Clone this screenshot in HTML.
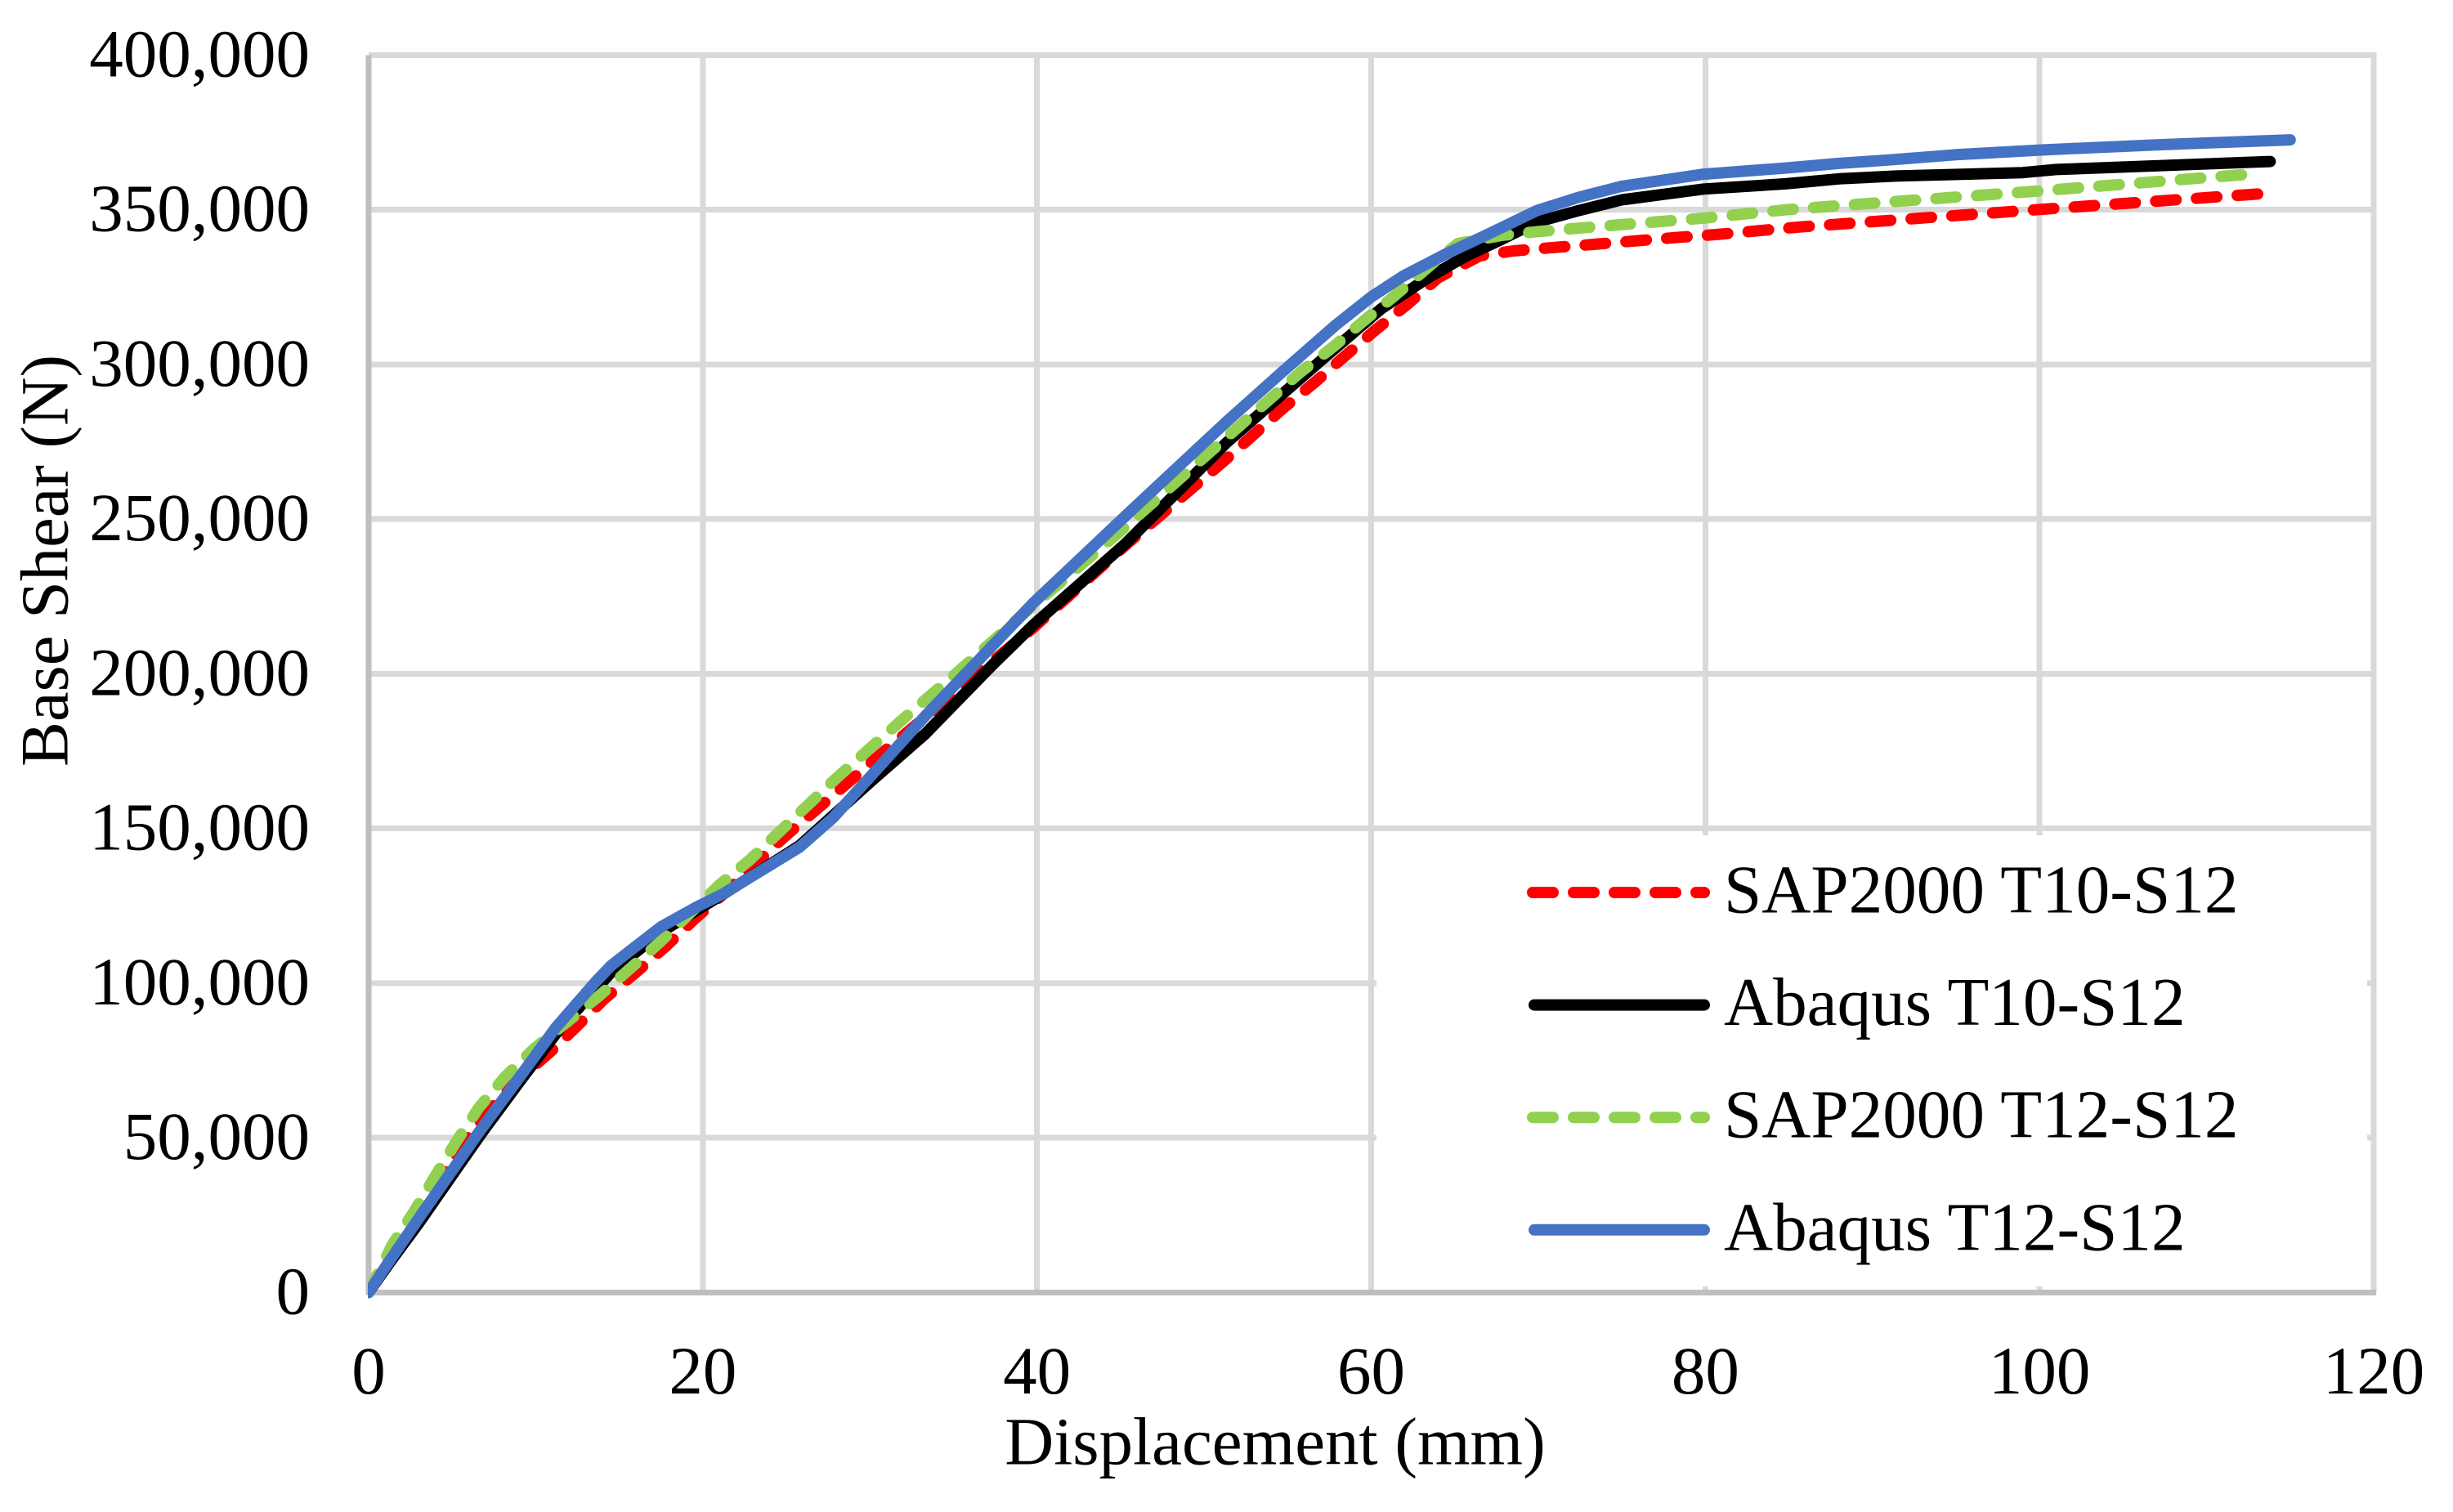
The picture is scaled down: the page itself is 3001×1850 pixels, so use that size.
<!DOCTYPE html>
<html lang="en">
<head>
<meta charset="utf-8">
<title>Base Shear vs Displacement</title>
<style>
html,body{margin:0;padding:0;background:#fff;width:3001px;height:1850px;overflow:hidden}
svg{display:block}
text{font-family:"Liberation Serif",serif;font-size:83px;fill:#000}
</style>
</head>
<body>
<svg id="chart" xmlns="http://www.w3.org/2000/svg" width="3001" height="1850" viewBox="0 0 3001 1850">
<defs><clipPath id="plot-clip"><rect x="450" y="0" width="2551" height="1850"/></clipPath></defs>
<rect width="3001" height="1850" fill="#fff"/>
<g id="grid"></g>
<rect x="1684" y="1022" width="1212" height="552" fill="#fff"/>
<g id="grid-front"></g>
<g id="axes"></g>
<g id="series" clip-path="url(#plot-clip)"></g>
<g id="ticks"></g>
<text x="1560" y="1791.5" text-anchor="middle">Displacement (mm)</text>
<text x="0" y="0" text-anchor="middle" font-size="82.5" style="font-size:82.5px" transform="translate(82.7 686) rotate(-90)">Base Shear (N)</text>
<g id="legend"></g>
</svg>
<script>
var xTicks = [0, 20, 40, 60, 80, 100, 120];
var yTicks = [0, 50000, 100000, 150000, 200000, 250000, 300000, 350000, 400000];

var sapT10Disp = [0, 1.4, 3, 4.8, 6.1, 7.3, 8.8, 10.9, 12.3, 14.1, 16, 17.8, 19.5, 21.2, 24.9, 28.7, 30.6, 35, 39.8, 45.4, 51, 52.9, 54.7, 56.6, 58.4, 60.3, 62.2, 64, 66.5, 68.5, 70.7, 73.3, 78.2, 80.7, 85.6, 100, 113.3];
var sapT10Shear = [0, 12500, 25000, 41000, 51400, 59400, 68000, 77900, 85200, 94900, 103500, 112000, 120700, 128700, 147400, 164900, 173800, 193500, 215000, 242100, 267900, 277000, 285700, 294100, 302600, 311300, 319600, 328000, 335100, 336700, 337700, 338800, 341000, 342000, 344400, 350100, 355200];

var abaT10Disp = [0, 1.3, 3, 5.5, 6.8, 9.1, 11.4, 14.6, 17.5, 21.2, 25.8, 30.1, 33.3, 37.3, 39.8, 45.3, 51.3, 53.3, 56.9, 60.6, 63.4, 65.7, 67.6, 69.9, 72.4, 75, 79.9, 84.8, 88, 91.4, 99, 101, 113.8];
var abaT10Shear = [0, 10000, 22400, 41800, 51800, 68600, 85000, 104000, 116500, 128700, 144500, 165400, 180500, 202700, 215900, 242100, 274500, 283900, 300800, 318000, 328000, 335100, 339900, 346000, 349700, 353200, 356700, 358400, 360000, 360900, 362000, 363000, 365600];

var sapT12Disp = [0, 1.4, 2.7, 4, 5.25, 6.6, 8.2, 9.9, 12, 13.8, 15.6, 17.4, 21, 22.8, 24.6, 28.1, 31.8, 35.6, 39.3, 44.8, 52.1, 55.7, 57.8, 59.6, 61.4, 63.7, 65.2, 67.8, 70.1, 75, 79.9, 84.8, 87.2, 100, 112.3];
var sapT12Shear = [0, 15300, 26000, 37800, 48800, 59800, 69900, 78800, 88000, 95900, 104500, 113100, 131800, 139800, 149000, 166800, 184500, 202200, 219900, 245200, 280000, 297200, 306000, 314300, 322200, 332800, 339100, 341700, 343000, 345200, 347300, 350000, 351000, 356100, 361400];

var abaT12Disp = [0, 1.1, 2.8, 5.5, 6.6, 8.9, 11.2, 13.6, 14.5, 15.8, 17.5, 19.7, 21.2, 25.8, 27.8, 33.3, 39.8, 45.55, 51.3, 54.6, 57.85, 60, 61.9, 64.4, 66.8, 69.9, 72.4, 75, 79.9, 84.8, 88, 91, 95, 100, 107, 115];
var abaT12Shear = [0, 9000, 22400, 43300, 51800, 68600, 85600, 100500, 105600, 111100, 118200, 124800, 128800, 144000, 153500, 186300, 223000, 252300, 281300, 297200, 312600, 321800, 328500, 335500, 341600, 349700, 354000, 357600, 361500, 363500, 365000, 366100, 367800, 369300, 371000, 372600];

var NS = 'http://www.w3.org/2000/svg';
var xMax = 120, yMax = 400000;
var plotLeft = 451, plotRight = 2904, plotTop = 67.4, plotBottom = 1581.4;
function xScale(v) { return plotLeft + (plotRight - plotLeft) * v / xMax; }
function yScale(v) { return plotBottom - (plotBottom - plotTop) * v / yMax; }
function formatThousands(v) { return String(v).replace(/\B(?=(\d{3})+$)/g, ','); }
function makeLine(parent, x1, y1, x2, y2, color, width) {
  var l = document.createElementNS(NS, 'line');
  l.setAttribute('x1', x1);
  l.setAttribute('y1', y1);
  l.setAttribute('x2', x2);
  l.setAttribute('y2', y2);
  l.setAttribute('stroke', color);
  l.setAttribute('stroke-width', width);
  l.setAttribute('shape-rendering', 'crispEdges');
  parent.appendChild(l);
  return l;
}

var gridG = document.getElementById('grid');
var gridFront = document.getElementById('grid-front');
var axesG = document.getElementById('axes');
var ticksG = document.getElementById('ticks');
var seriesG = document.getElementById('series');
var legendG = document.getElementById('legend');

yTicks.forEach(function (t) {
  if (t === 0) return;
  var g = makeLine(gridG, plotLeft, yScale(t), plotRight + 3, yScale(t), '#d9d9d9', 7);
  
  
});
xTicks.forEach(function (t) {
  if (t === 0) return;
  var g = makeLine(t === 60 ? gridFront : gridG, xScale(t), plotTop - 3, xScale(t), plotBottom, '#d9d9d9', 7);
  
  
});

var yAxisLine = makeLine(axesG, plotLeft, plotTop, plotLeft, plotBottom + 3, '#bfbfbf', 7);


var xAxisLine = makeLine(axesG, plotLeft, plotBottom, plotRight + 3, plotBottom, '#bfbfbf', 7);



yTicks.forEach(function (t) {
  var el = document.createElementNS(NS, 'text');
  el.setAttribute('x', 379);
  el.setAttribute('y', yScale(t) + 26);
  el.setAttribute('text-anchor', 'end');
  el.textContent = formatThousands(t);
  
  
  ticksG.appendChild(el);
});
xTicks.forEach(function (t) {
  var el = document.createElementNS(NS, 'text');
  el.setAttribute('x', xScale(t));
  el.setAttribute('y', 1705);
  el.setAttribute('text-anchor', 'middle');
  el.textContent = String(t);
  
  
  ticksG.appendChild(el);
});

function drawSeries(xs, ys, color, dashed, name) {
  var p = document.createElementNS(NS, 'polyline');
  var pts = [];
  for (var i = 0; i < xs.length; i++) {
    pts.push(xScale(xs[i]).toFixed(1) + ',' + yScale(ys[i]).toFixed(1));
  }
  p.setAttribute('points', pts.join(' '));
  p.setAttribute('fill', 'none');
  p.setAttribute('stroke', color);
  p.setAttribute('stroke-width', 14);
  p.setAttribute('stroke-linejoin', 'round');
  p.setAttribute('stroke-linecap', 'round');
  if (dashed) p.setAttribute('stroke-dasharray', '25 25');
  
  
  seriesG.appendChild(p);
}
drawSeries(sapT10Disp, sapT10Shear, '#ff0000', true, 'series-sap2000-t10-s12');
drawSeries(abaT10Disp, abaT10Shear, '#000000', false, 'series-abaqus-t10-s12');
drawSeries(sapT12Disp, sapT12Shear, '#92d050', true, 'series-sap2000-t12-s12');
drawSeries(abaT12Disp, abaT12Shear, '#4472c4', false, 'series-abaqus-t12-s12');

var legendLabels = ['SAP2000 T10-S12', 'Abaqus T10-S12', 'SAP2000 T12-S12', 'Abaqus T12-S12'];
var legendColors = ['#ff0000', '#000000', '#92d050', '#4472c4'];
var legendDashed = [true, false, true, false];
legendLabels.forEach(function (label, i) {
  var cy = 1092 + i * 137.6;
  var sw = document.createElementNS(NS, 'line');
  sw.setAttribute('x1', legendDashed[i] ? 1875 : 1877);
  sw.setAttribute('y1', cy);
  sw.setAttribute('x2', 2085);
  sw.setAttribute('y2', cy);
  sw.setAttribute('stroke', legendColors[i]);
  sw.setAttribute('stroke-width', 14);
  sw.setAttribute('stroke-linecap', 'round');
  if (legendDashed[i]) sw.setAttribute('stroke-dasharray', '25 25');
  
  
  legendG.appendChild(sw);
  var tx = document.createElementNS(NS, 'text');
  tx.setAttribute('x', 2109);
  tx.setAttribute('y', cy + 24.5);
  tx.setAttribute('style', 'font-size:83.2px');
  tx.textContent = label;
  
  
  legendG.appendChild(tx);
});
</script>
</body>
</html>
